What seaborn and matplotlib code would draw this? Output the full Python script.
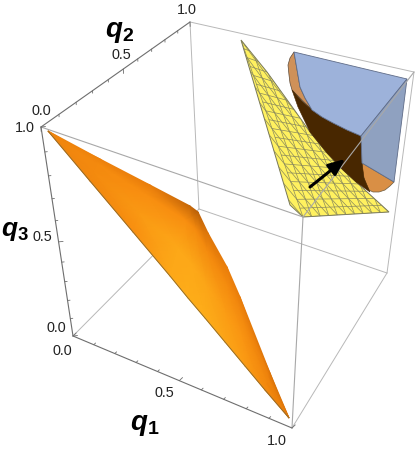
import numpy as np
import matplotlib
matplotlib.use("Agg")
import matplotlib.pyplot as plt
from matplotlib.colors import LinearSegmentedColormap
from matplotlib.patches import Polygon
import seaborn as sns

sns.set_theme(style="white")
plt.rcParams["font.family"] = ["Liberation Sans", "DejaVu Sans"]
plt.rcParams["mathtext.fontset"] = "custom"
plt.rcParams["mathtext.bfit"] = "Liberation Sans:bold:italic"
plt.rcParams["mathtext.bf"] = "Liberation Sans:bold"

# box corners (page positions), key = q1 q2 q3
corners = {
    "001": (41, 127), "011": (190, 22), "111": (414, 72), "101": (303, 217),
    "000": (73, 336), "100": (292, 428), "110": (387, 273), "010": (199, 209),
}
back_edges = [("011", "010"), ("000", "010"), ("010", "110"), ("110", "100"),
              ("110", "111"), ("011", "111")]
front_edges = [("001", "101"), ("101", "100"), ("101", "111")]
axis_edges = [("000", "100"), ("001", "011"), ("000", "001")]

# orange surface, lower and upper rim plus shade across it (0 bright, 1 dark)
orange_low = [(48, 131), (90, 181), (133, 232), (170, 276), (188, 298), (205, 318), (225, 342), (245, 366), (265, 390), (289, 418)]
orange_up = [(48, 131), (100, 159), (150, 185), (190, 206), (198, 212), (208, 233), (227, 267), (240, 297), (270, 373), (289, 418)]
orange_across = [0, 0.4, 0.8, 1]
orange_shade = [[0.5, 0.5, 0.5, 0.5],
                [0.45, 0.42, 0.42, 0.55],
                [0.35, 0.25, 0.35, 0.62],
                [0.12, 0.12, 0.35, 0.85],
                [0.08, 0.12, 0.42, 0.92],
                [0.08, 0.15, 0.42, 0.72],
                [0.15, 0.22, 0.42, 0.62],
                [0.22, 0.28, 0.45, 0.62],
                [0.4, 0.45, 0.55, 0.72],
                [0.65, 0.65, 0.7, 0.75]]

yellow_rim = [(241, 40), (267, 72), (293, 108), (310, 132), (327, 153), (343, 170), (389, 212), (303, 217), (290, 205)]
yellow_quad = [(303, 217), (389, 212), (241, 40), (330, 75)]  # bl, br, tl, tr of the mesh

blue_top = [(294, 52), (407, 79), (361, 136), (347, 130), (333, 123), (322, 117), (312, 110), (305, 98), (300, 87)]
blue_side = [(407, 79), (361, 136), (362, 163), (394, 182)]
tan_back = [(294, 52), (290, 58), (288, 65), (289, 75), (290, 83), (292, 90), (312, 110), (305, 98), (300, 87)]
tan_low = [(362, 163), (394, 182), (390, 186), (385, 190), (379, 192), (373, 192), (369, 190), (366, 185), (363, 175)]
brown = [(292, 90), (302, 101), (312, 110), (322, 117), (333, 123), (347, 130), (361, 136), (362, 163), (364, 178), (370, 192),
         (356, 182), (343, 170), (327, 153), (310, 132), (298, 107)]

arrow_tail = (310, 187)
arrow_head = (345, 159)

# tick labels: text and where it sits
tick_labels = [("1.0", 187, 10), ("0.5", 121, 55), ("0.0", 41, 111),
               ("1.0", 25, 128), ("0.5", 42, 237), ("0.0", 56, 328),
               ("0.0", 62, 351), ("0.5", 164, 393), ("1.0", 277, 441)]
axis_labels = [(r"$\mathbfit{q}_{\mathbf{2}}$", 120, 32, 20),
               (r"$\mathbfit{q}_{\mathbf{3}}$", 15, 231, 19),
               (r"$\mathbfit{q}_{\mathbf{1}}$", 145, 425, 20)]

# perspective squeeze of each axis, and which way its ticks point
tick_vals = np.arange(11) / 10
axis_squeeze = [1.06, 0.81, 1.22]
tick_dirs = [(0.72, -0.69), (0.04, 1.0), (1.0, -0.1)]


def draw_edges(ax, edges, color, lw, zorder):
    for a, b in edges:
        xs = [corners[a][0], corners[b][0]]
        ys = [corners[a][1], corners[b][1]]
        sns.lineplot(x=xs, y=ys, ax=ax, color=color, lw=lw, sort=False,
                     estimator=None, legend=False, zorder=zorder)


fig, ax = plt.subplots(figsize=(4.15, 4.5), dpi=100)
fig.subplots_adjust(0, 0, 1, 1)

draw_edges(ax, back_edges, "#b8b8b8", 0.7, 1)

# orange surface
low = np.array(orange_low, float)
up = np.array(orange_up, float)
across = np.array(orange_across)[None, :, None]
mesh = low[:, None, :] * (1 - across) + up[:, None, :] * across
orange_cmap = LinearSegmentedColormap.from_list("orng", ["#ffb61c", "#f98f10", "#e67a0a", "#a85606"])
ax.pcolormesh(mesh[..., 0], mesh[..., 1], np.array(orange_shade), cmap=orange_cmap,
              vmin=0, vmax=1, shading="gouraud", zorder=2)
ax.plot(low[:, 0], low[:, 1], color="#8a6a30", lw=0.6, zorder=3)

# yellow sheet with its mesh
yellow = Polygon(yellow_rim, closed=True, fc="#fff15f", ec="#77775a", lw=0.7, zorder=3)
ax.add_patch(yellow)
bl, br, tl, tr = [np.array(p, float) for p in yellow_quad]


def sheet(u, v):
    u = np.asarray(u)[..., None]
    v = np.asarray(v)[..., None]
    return (bl * (1 - u) + br * u) * (1 - v) + (tl * (1 - u) + tr * u) * v


steps = np.linspace(0, 1, 60)
mesh_lines = []
for v in np.arange(0, 1, 1 / 20):
    mesh_lines.append(sheet(steps, np.full(60, v)))
for u in np.arange(0, 1, 1 / 10):
    mesh_lines.append(sheet(np.full(60, u), steps))
for d in np.arange(0, 2, 1 / 10):
    mesh_lines.append(sheet(d - steps, steps))
for seg in mesh_lines:
    ln, = ax.plot(seg[:, 0], seg[:, 1], color="#8b8a5c", lw=0.5, zorder=3.1)
    ln.set_clip_path(yellow)

# the cut-out solid
ax.add_patch(Polygon(tan_back, fc="#cf9159", ec="#5a4a3a", lw=0.5, zorder=4))
ax.add_patch(Polygon(brown, fc="#482700", ec="#482700", lw=0.4, zorder=4.1))
ax.add_patch(Polygon(tan_low, fc="#d98f45", ec="#6a5a40", lw=0.5, zorder=4))
ax.add_patch(Polygon(blue_top, fc="#9db2da", ec="#5f6c88", lw=0.6, zorder=4.2))
ax.add_patch(Polygon(blue_side, fc="#8fa1c0", ec="#5f6c88", lw=0.6, zorder=4.2))

draw_edges(ax, front_edges, "#a8a8a8", 0.8, 5)
draw_edges(ax, axis_edges, "#6e6e6e", 0.8, 5)

# ticks along the three labelled edges
for (a, b), k, d in zip(axis_edges, axis_squeeze, tick_dirs):
    pa = np.array(corners[a], float)
    pb = np.array(corners[b], float)
    for t in tick_vals:
        frac = t / (t + (1 - t) * k)
        p = pa + (pb - pa) * frac
        size = 4.5 if t in (0.0, 0.5, 1.0) else 2.5
        ax.plot([p[0], p[0] + d[0] * size], [p[1], p[1] + d[1] * size],
                color="#6e6e6e", lw=0.6, zorder=5)

ax.annotate("", xy=arrow_head, xytext=arrow_tail, zorder=6,
            arrowprops=dict(arrowstyle="-|>,head_length=0.7,head_width=0.3", color="black",
                            lw=2.2, shrinkA=0, shrinkB=0, mutation_scale=14))

for txt, x, y in tick_labels:
    ax.text(x, y, txt, ha="center", va="center", fontsize=10.4, color="#222222", zorder=7)
for txt, x, y, fs in axis_labels:
    ax.text(x, y, txt, ha="center", va="center", fontsize=fs, color="black", zorder=7)

ax.set_xlim(0, 415)
ax.set_ylim(450, 0)
ax.axis("off")
fig.savefig("out.png", dpi=100)
